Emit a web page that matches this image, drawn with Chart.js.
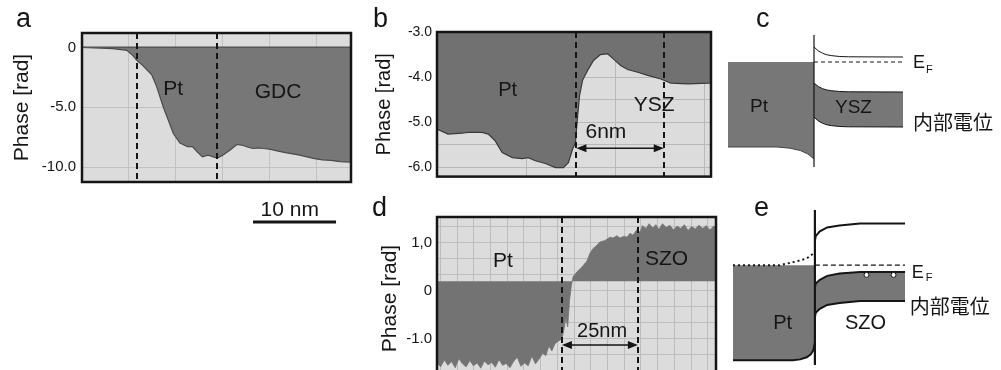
<!DOCTYPE html>
<html>
<head>
<meta charset="utf-8">
<script src="https://cdn.jsdelivr.net/npm/chart.js@4/dist/chart.umd.min.js"></script>
<style>
html, body { margin: 0; padding: 0; background: #fff; width: 1001px; height: 370px; overflow: hidden; }
canvas { position: absolute; }
.panel { position: absolute; font-family: "Liberation Sans", Arial, sans-serif; font-size: 27px; line-height: 1; color: #151515; }
</style>
</head>
<body>
<canvas id="chA" width="360" height="240" style="left:0;top:0"></canvas>
<canvas id="chB" width="360" height="190" style="left:360px;top:0"></canvas>
<canvas id="chD" width="360" height="200" style="left:360px;top:195px"></canvas>
<canvas id="chC" width="301" height="185" style="left:700px;top:0"></canvas>
<canvas id="chE" width="301" height="175" style="left:700px;top:195px"></canvas>
<div class="panel" style="left:16px;top:5px">a</div>
<div class="panel" style="left:373px;top:5px">b</div>
<div class="panel" style="left:756px;top:5px">c</div>
<div class="panel" style="left:372px;top:194px">d</div>
<div class="panel" style="left:754px;top:194px">e</div>
<script>
// --- a : Pt / GDC
const aPos   = [0, 3.7, 5.4, 6.1, 6.6, 7.3, 8.4, 9.0, 9.8, 10.4, 11.0, 11.8, 12.7, 13.3, 13.9, 14.5, 15.2, 15.8, 16.3, 17.0, 17.8, 18.7, 19.4, 20.0, 20.6, 21.2, 21.8, 22.6, 23.5, 24.5, 25.4, 26.2, 27.1, 28.0, 29.0, 30.0, 31.1, 32.4];
const aPhase = [0, -0.1, -0.25, -0.67, -1.08, -1.5, -2.3, -3.3, -5.0, -6.1, -7.2, -8.0, -8.3, -8.3, -8.75, -9.15, -9.0, -9.15, -9.25, -9.0, -8.6, -8.1, -8.2, -8.35, -8.45, -8.4, -8.45, -8.5, -8.65, -8.8, -8.9, -9.0, -9.15, -9.3, -9.4, -9.45, -9.55, -9.6];
const aTickValues = [0, -5, -10];
const aTickLabels = ['0', '-5.0', '-10.0'];

// --- b : Pt / YSZ
const bPos   = [0, 0.74, 1.69, 2.09, 3.04, 3.45, 3.92, 4.39, 5.07, 5.74, 6.15, 6.62, 7.3, 7.97, 8.51, 8.85, 9.12, 9.32, 9.46, 9.6, 9.8, 10.14, 10.54, 11.01, 11.49, 11.89, 12.36, 12.84, 13.51, 14.19, 15.07, 15.74, 16.89, 18.31, 18.45];
const bPhase = [-5.15, -5.26, -5.24, -5.22, -5.22, -5.26, -5.41, -5.67, -5.78, -5.8, -5.78, -5.85, -5.91, -6.0, -6.0, -5.89, -5.6, -5.45, -4.9, -4.4, -4.07, -3.85, -3.63, -3.5, -3.48, -3.6, -3.74, -3.83, -3.89, -3.96, -4.04, -4.13, -4.15, -4.13, -4.12];
const bTickValues = [-3, -4, -5, -6];
const bTickLabels = ['-3.0', '-4.0', '-5.0', '-6.0'];

// --- d : Pt / SZO
const dPos   = [0, 1.2, 2.4, 3.6, 4.8, 6.0, 7.2, 8.4, 9.6, 10.8, 12.0, 13.2, 14.4, 15.6, 16.8, 18.0, 19.2, 20.4, 21.6, 22.8, 24.0, 25.2, 26.4, 27.6, 28.8, 30.0, 31.2, 32.4, 33.6, 34.8,
                35.8, 36.8, 37.8, 38.8, 39.8, 41.1, 41.8, 42.4, 43.0, 43.6, 44.2, 44.8, 46.1, 47.7, 49.3, 50.3, 51.3, 52.6, 53.6, 55.3, 56.9, 57.9, 59.2, 60.2, 61.5, 62.5, 63.5, 64.5, 65.8,
                66.8, 67.6, 68.8, 69.8, 71.0, 72.0, 73.0, 74.2, 75.4, 76.6, 77.8, 79.0, 80.2, 81.4, 82.6, 83.8, 85.0, 86.2, 87.4, 88.6, 89.8, 91.0, 91.8];
const dPhase = [-1.50, -1.58, -1.44, -1.55, -1.47, -1.60, -1.41, -1.52, -1.58, -1.45, -1.56, -1.50, -1.61, -1.46, -1.54, -1.49, -1.59, -1.43, -1.55, -1.51, -1.60, -1.47, -1.38, -1.57, -1.50, -1.56, -1.36, -1.52, -1.42, -1.30,
                -1.35, -1.15, -1.25, -1.10, -1.05, -1.0, -0.8, -0.55, -0.75, -0.2, 0.1, 0.3, 0.4, 0.5, 0.62, 0.78, 0.88, 0.95, 1.02, 1.05, 1.12, 1.1, 1.15, 1.1, 1.14, 1.12, 1.2, 1.16, 1.28,
                1.22, 1.36, 1.3, 1.4, 1.31, 1.38, 1.28, 1.4, 1.32, 1.37, 1.27, 1.35, 1.3, 1.38, 1.26, 1.34, 1.29, 1.37, 1.3, 1.36, 1.27, 1.35, 1.32];
const dTickValues = [1, 0, -1];
const dTickLabels = ['1,0', '0', '-1.0'];

// --- c : Pt / YSZ band diagram (x: distance from interface, y: energy, E_F = 0)
const cPtX      = [-1, -0.43, -0.28, -0.16, -0.07, 0];
const cPtTop    = [0, 0, 0, 0, 0, 0];
const cPtBottom = [-8.5, -8.5, -8.62, -8.85, -9.2, -9.7];
const cBandX      = [0, 0.05, 0.1, 0.15, 0.2, 0.3, 0.4, 1.035];
const cUpper      = [1.5, 1.11, 0.87, 0.72, 0.64, 0.55, 0.52, 0.5];
const cBandTop    = [-2.1, -2.45, -2.67, -2.8, -2.87, -2.95, -2.98, -3.0];
const cBandBottom = [-5.5, -5.89, -6.13, -6.28, -6.36, -6.45, -6.48, -6.5];

// --- e : Pt / SZO band diagram
const ePtX      = [-1, -0.27, -0.18, -0.1, -0.05, -0.02, 0];
const ePtTop    = [0, 0, 0, 0, 0, 0, 0];
const ePtBottom = [-9.8, -9.8, -9.72, -9.5, -9.2, -8.8, -8.0];
const eDotX = [-1, -0.43, -0.22, -0.1, -0.02];
const eDotY = [0, 0, 0.4, 0.7, 1.2];
const eBandX      = [0, 0.01, 0.06, 0.15, 0.3, 0.55, 1.1];
const eUpper      = [2.5, 3.0, 3.5, 3.9, 4.1, 4.3, 4.3];
const eBandTop    = [-2.3, -1.9, -1.5, -1.1, -0.85, -0.7, -0.7];
const eBandBottom = [-5.4, -4.9, -4.5, -4.1, -3.9, -3.7, -3.7];
const eHoleX = [0.63, 0.96];
const eHoleY = [-1.0, -1.0];

const FONT = '"Liberation Sans", Arial, sans-serif';
const CJK = '"Noto Sans CJK JP", "Noto Sans CJK SC", sans-serif';
const INK = '#151515';
const DARK = '#777777';
const LIGHT = '#dcdcdc';
const GRID = '#c2c2c2';

Chart.defaults.font.family = FONT;
Chart.defaults.color = INK;
Chart.defaults.animation = false;
Chart.defaults.responsive = false;
Chart.defaults.plugins.legend.display = false;
Chart.defaults.plugins.tooltip.enabled = false;
Chart.defaults.elements.point.radius = 0;
Chart.defaults.elements.line.tension = 0;

const pts = (xs, ys) => xs.map((x, i) => ({ x: x, y: ys[i] }));

function gridTicks(from, to, step) {
    const out = [];
    for (let v = from; v <= to + 1e-9; v += step) out.push({ value: +v.toFixed(5) });
    return out;
}

// fond, lignes pointillées, flèches, textes et cadre
Chart.register({
    id: 'fig',
    beforeDraw(chart, args, o) {
        if (!o.bg) return;
        const { ctx, chartArea: a } = chart;
        ctx.save();
        ctx.fillStyle = o.bg;
        ctx.fillRect(a.left, a.top, a.right - a.left, a.bottom - a.top);
        ctx.restore();
    },
    afterDraw(chart, args, o) {
        const { ctx, chartArea: a } = chart;
        const x = chart.scales.x, y = chart.scales.y;
        ctx.save();
        (o.labels || []).forEach(l => {
            ctx.font = l.font;
            ctx.fillStyle = INK;
            ctx.textAlign = 'left';
            ctx.textBaseline = l.baseline || 'alphabetic';
            ctx.fillText(l.text, x.getPixelForValue(l.x), y.getPixelForValue(l.y));
        });
        ctx.strokeStyle = INK;
        ctx.fillStyle = INK;
        ctx.lineWidth = 2;
        ctx.setLineDash([6, 4]);
        (o.dashed || []).forEach(v => {
            const px = Math.round(x.getPixelForValue(v));
            ctx.beginPath();
            ctx.moveTo(px, a.top);
            ctx.lineTo(px, a.bottom);
            ctx.stroke();
        });
        ctx.setLineDash([]);
        if (o.arrow) {
            const x1 = x.getPixelForValue(o.arrow.from), x2 = x.getPixelForValue(o.arrow.to);
            const py = y.getPixelForValue(o.arrow.y);
            ctx.lineWidth = 1.5;
            ctx.beginPath();
            ctx.moveTo(x1 + 6, py);
            ctx.lineTo(x2 - 6, py);
            ctx.stroke();
            [[x1, 1], [x2, -1]].forEach(([hx, dir]) => {
                ctx.beginPath();
                ctx.moveTo(hx, py);
                ctx.lineTo(hx + dir * 10, py - 4);
                ctx.lineTo(hx + dir * 10, py + 4);
                ctx.closePath();
                ctx.fill();
            });
        }
        if (o.scaleBar) {
            const s = o.scaleBar;
            const py = y.getPixelForValue(s.y);
            ctx.lineWidth = 3;
            ctx.beginPath();
            ctx.moveTo(x.getPixelForValue(s.from), py);
            ctx.lineTo(x.getPixelForValue(s.to), py);
            ctx.stroke();
        }
        if (o.box) {
            ctx.lineWidth = 2.5;
            ctx.strokeRect(a.left, a.top, a.right - a.left, a.bottom - a.top);
        }
        ctx.restore();
    }
});

function phaseChart(id, opt) {
    const label = v => {
        const i = opt.tickValues.findIndex(t => Math.abs(t - v) < 1e-6);
        return i >= 0 ? opt.tickLabels[i] : '';
    };
    return new Chart(document.getElementById(id), {
        type: 'line',
        data: { datasets: opt.datasets },
        options: {
            layout: { padding: opt.padding },
            scales: {
                x: {
                    type: 'linear', min: opt.xMin, max: opt.xMax,
                    afterBuildTicks: s => { s.ticks = gridTicks(opt.xGrid[0], opt.xMax, opt.xGrid[1]); },
                    afterFit: s => { s.height = 0; },
                    ticks: { display: false, autoSkip: false },
                    grid: { color: opt.gridColor, drawTicks: false },
                    border: { display: false }
                },
                y: {
                    min: opt.yMin, max: opt.yMax,
                    afterBuildTicks: s => { s.ticks = opt.yGrid.map(v => ({ value: v })); },
                    afterFit: s => { s.width = opt.axisWidth; },
                    ticks: { autoSkip: false, padding: opt.tickPad, font: { size: opt.tickSize }, color: INK, callback: label },
                    grid: { color: opt.gridColor, drawTicks: false },
                    border: { display: false },
                    title: { display: true, text: 'Phase [rad]', color: INK, font: { size: opt.titleSize }, padding: { top: opt.titlePad, bottom: 0 } }
                }
            },
            plugins: { fig: opt.fig }
        }
    });
}

function bandChart(id, opt) {
    return new Chart(document.getElementById(id), {
        type: 'line',
        data: { datasets: opt.datasets },
        options: {
            layout: { padding: opt.padding },
            scales: {
                x: { type: 'linear', display: false, min: opt.xMin, max: opt.xMax },
                y: { display: false, min: opt.yMin, max: opt.yMax }
            },
            plugins: { fig: { labels: opt.labels } }
        }
    });
}

const f = (size, fam) => size + 'px ' + (fam || FONT);

// a
phaseChart('chA', {
    padding: { top: 33, right: 9, bottom: 58, left: 0 },
    axisWidth: 82, tickPad: 6, tickSize: 15, titleSize: 21, titlePad: 10,
    xMin: 0, xMax: 32.4, xGrid: [0, 5.66],
    yMin: -11.25, yMax: 1.2, yGrid: aTickValues,
    tickValues: aTickValues, tickLabels: aTickLabels, gridColor: GRID,
    datasets: [
        { data: pts([aPos[0], aPos[aPos.length - 1]], [0, 0]), borderColor: '#555', borderWidth: 1.5, fill: false },
        { data: pts(aPos, aPhase), borderColor: '#4a4a4a', borderWidth: 1.2, backgroundColor: DARK, fill: 'origin' }
    ],
    fig: {
        bg: LIGHT, box: true, dashed: [6.6, 16.3],
        scaleBar: { from: 20.6, to: 30.6, y: -14.6 },
        labels: [
            { text: 'Pt', x: 9.8, y: -4.0, font: f(21) },
            { text: 'GDC', x: 20.8, y: -4.25, font: f(21) },
            { text: '10 nm', x: 21.5, y: -14.1, font: f(21) }
        ]
    }
});

// b
phaseChart('chB', {
    padding: { top: 32, right: 9, bottom: 11, left: 0 },
    axisWidth: 77, tickPad: 5, tickSize: 14, titleSize: 20, titlePad: 12,
    xMin: 0, xMax: 18.45, xGrid: [0, 6],
    yMin: -6.2, yMax: -3.0, yGrid: [-3, -3.5, -4, -4.5, -5, -5.5, -6],
    tickValues: bTickValues, tickLabels: bTickLabels, gridColor: '#b9b9b9',
    datasets: [
        { data: pts(bPos, bPhase), borderColor: '#3a3a3a', borderWidth: 1.2, backgroundColor: '#717171', fill: 'end' }
    ],
    fig: {
        bg: LIGHT, box: true, dashed: [9.39, 15.27],
        arrow: { from: 9.39, to: 15.27, y: -5.57 },
        labels: [
            { text: 'Pt', x: 4.12, y: -4.41, font: f(20) },
            { text: 'YSZ', x: 13.24, y: -4.74, font: f(21) },
            { text: '6nm', x: 10.0, y: -5.35, font: f(21) }
        ]
    }
});

// d
phaseChart('chD', {
    padding: { top: 22, right: 4, bottom: 15, left: 0 },
    axisWidth: 77, tickPad: 5, tickSize: 15, titleSize: 21, titlePad: 18,
    xMin: 0, xMax: 91.8, xGrid: [1.1, 5.5],
    yMin: -1.856, yMax: 1.54, yGrid: [4 / 3, 1, 2 / 3, 1 / 3, 0, -1 / 3, -2 / 3, -1, -4 / 3, -5 / 3],
    tickValues: dTickValues, tickLabels: dTickLabels, gridColor: '#bdbdbd',
    datasets: [
        { data: pts(dPos, dPhase), borderColor: '#737373', borderWidth: 0.8, backgroundColor: '#737373', fill: { value: 0.2 } }
    ],
    fig: {
        bg: LIGHT, box: true, dashed: [41.1, 66.1],
        arrow: { from: 41.1, to: 66.1, y: -1.125 },
        labels: [
            { text: 'Pt', x: 18.4, y: 0.5, font: f(21) },
            { text: 'SZO', x: 68.4, y: 0.54, font: f(21) },
            { text: '25nm', x: 46.1, y: -0.96, font: f(20) }
        ]
    }
});

// c
bandChart('chC', {
    padding: { top: 35, right: 98, bottom: 18, left: 28 },
    xMin: -1, xMax: 1.035, yMin: -10.5, yMax: 2.7,
    datasets: [
        { data: pts([0, 0], [2.7, -10.5]), borderColor: INK, borderWidth: 1.2, fill: false, clip: false },
        { data: pts([0, 1.035], [0, 0]), borderColor: INK, borderWidth: 1, borderDash: [4, 3], fill: false },
        { data: pts(cBandX, cUpper), borderColor: INK, borderWidth: 1, fill: false },
        { data: pts(cBandX, cBandTop), borderColor: INK, borderWidth: 1, fill: false },
        { data: pts(cBandX, cBandBottom), borderColor: INK, borderWidth: 1, backgroundColor: DARK, fill: 3 },
        { data: pts(cPtX, cPtTop), borderColor: 'rgba(0,0,0,0)', borderWidth: 0, fill: false },
        { data: pts(cPtX, cPtBottom), borderColor: '#444', borderWidth: 1, backgroundColor: DARK, fill: 5 }
    ],
    labels: [
        { text: 'Pt', x: -0.744, y: -5.0, font: f(19) },
        { text: 'YSZ', x: 0.244, y: -5.1, font: f(19) },
        { text: 'E', x: 1.151, y: -0.6, font: f(18) },
        { text: 'F', x: 1.302, y: -1.1, font: f(11) },
        { text: '内部電位', x: 1.151, y: -6.0, font: f(20, CJK), baseline: 'middle' }
    ]
});

// e
bandChart('chE', {
    padding: { top: 15, right: 96, bottom: 0, left: 33 },
    xMin: -1, xMax: 1.1, yMin: -10.3, yMax: 5.7,
    datasets: [
        { data: pts([0, 0], [5.7, -10.3]), borderColor: INK, borderWidth: 2.2, fill: false, clip: false },
        { data: pts([0, 1.1], [0, 0]), borderColor: INK, borderWidth: 1.2, borderDash: [5, 3], fill: false },
        { data: pts(eHoleX, eHoleY), showLine: false, pointRadius: 2.5, pointBackgroundColor: '#fff', pointBorderColor: INK, pointBorderWidth: 1 },
        { data: pts(eBandX, eUpper), borderColor: INK, borderWidth: 2, fill: false },
        { data: pts(eDotX, eDotY), borderColor: INK, borderWidth: 2, borderDash: [2, 3], fill: false },
        { data: pts(eBandX, eBandTop), borderColor: INK, borderWidth: 2, fill: false },
        { data: pts(eBandX, eBandBottom), borderColor: INK, borderWidth: 2, backgroundColor: DARK, fill: 5 },
        { data: pts(ePtX, ePtTop), borderColor: 'rgba(0,0,0,0)', borderWidth: 0, fill: false },
        { data: pts(ePtX, ePtBottom), borderColor: INK, borderWidth: 2, backgroundColor: DARK, fill: 7 }
    ],
    labels: [
        { text: 'Pt', x: -0.51, y: -6.6, font: f(20) },
        { text: 'SZO', x: 0.366, y: -6.6, font: f(20) },
        { text: 'E', x: 1.183, y: -1.3, font: f(18) },
        { text: 'F', x: 1.354, y: -1.6, font: f(11) },
        { text: '内部電位', x: 1.159, y: -4.2, font: f(20, CJK), baseline: 'middle' }
    ]
});
</script>
</body>
</html>
